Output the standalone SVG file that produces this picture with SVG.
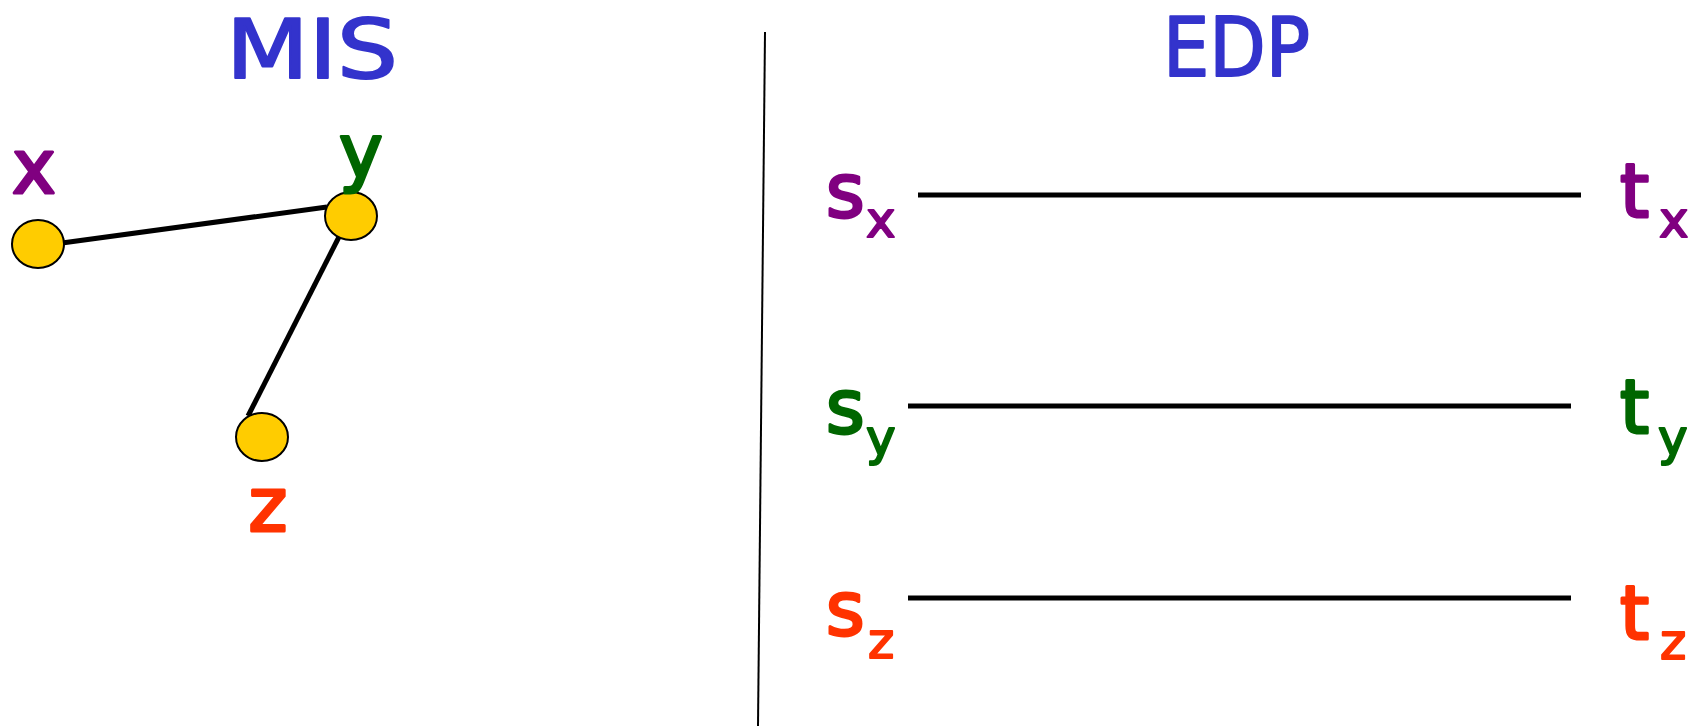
<svg xmlns="http://www.w3.org/2000/svg" width="1699" height="726" viewBox="0 0 1699 726">
<style>
.t{font-family:"DejaVu Sans","Liberation Sans",sans-serif;stroke-linejoin:round;stroke-linecap:round}
.title{font-size:82px;fill:#3333CC;stroke:#3333CC;stroke-width:2}
.big{font-size:74px;stroke-width:3}
.sub{font-size:50px;stroke-width:2}
.px{fill:#800080;stroke:#800080}
.py{fill:#006600;stroke:#006600}
.pz{fill:#FF3300;stroke:#FF3300}
.node{fill:#FFCC00;stroke:#000;stroke-width:2}
.edge{stroke:#000;stroke-width:5;fill:none}
</style>
<rect width="1699" height="726" fill="#fff"/>
<text class="t title" x="226" y="78" textLength="172" lengthAdjust="spacingAndGlyphs">MIS</text>
<text class="t title" x="1163" y="76" textLength="147" lengthAdjust="spacingAndGlyphs">EDP</text>
<line x1="765" y1="32" x2="758" y2="726" stroke="#000" stroke-width="2"/>
<g id="connectors">
<line class="edge" x1="62" y1="243" x2="327" y2="207"/>
<line class="edge" x1="342" y1="231" x2="248" y2="416"/>
<line class="edge" x1="918" y1="195" x2="1581" y2="195"/>
<line class="edge" x1="908" y1="406" x2="1571" y2="406"/>
<line class="edge" x1="908" y1="598" x2="1571" y2="598"/>
</g>
<g id="node-x">
<ellipse class="node" cx="38" cy="244" rx="26" ry="24"/>
<text class="t big px" x="34" y="193" text-anchor="middle">x</text>
</g>
<g id="node-y">
<ellipse class="node" cx="351" cy="216" rx="26" ry="24"/>
<text class="t big py" x="361" y="177" text-anchor="middle">y</text>
</g>
<g id="node-z">
<ellipse class="node" cx="262" cy="437" rx="26" ry="24"/>
<text class="t big pz" x="268" y="531" text-anchor="middle">z</text>
</g>
<g id="sx"><text class="t big px" x="826" y="217">s</text><text class="t sub px" x="866" y="237">x</text></g>
<g id="tx"><text class="t big px" x="1620" y="217">t</text><text class="t sub px" x="1659" y="237">x</text></g>
<g id="sy"><text class="t big py" x="826" y="433">s</text><text class="t sub py" x="866" y="455">y</text></g>
<g id="ty"><text class="t big py" x="1620" y="433">t</text><text class="t sub py" x="1658" y="455">y</text></g>
<g id="sz"><text class="t big pz" x="826" y="635">s</text><text class="t sub pz" x="868" y="658">z</text></g>
<g id="tz"><text class="t big pz" x="1620" y="639">t</text><text class="t sub pz" x="1660" y="659">z</text></g>
</svg>
